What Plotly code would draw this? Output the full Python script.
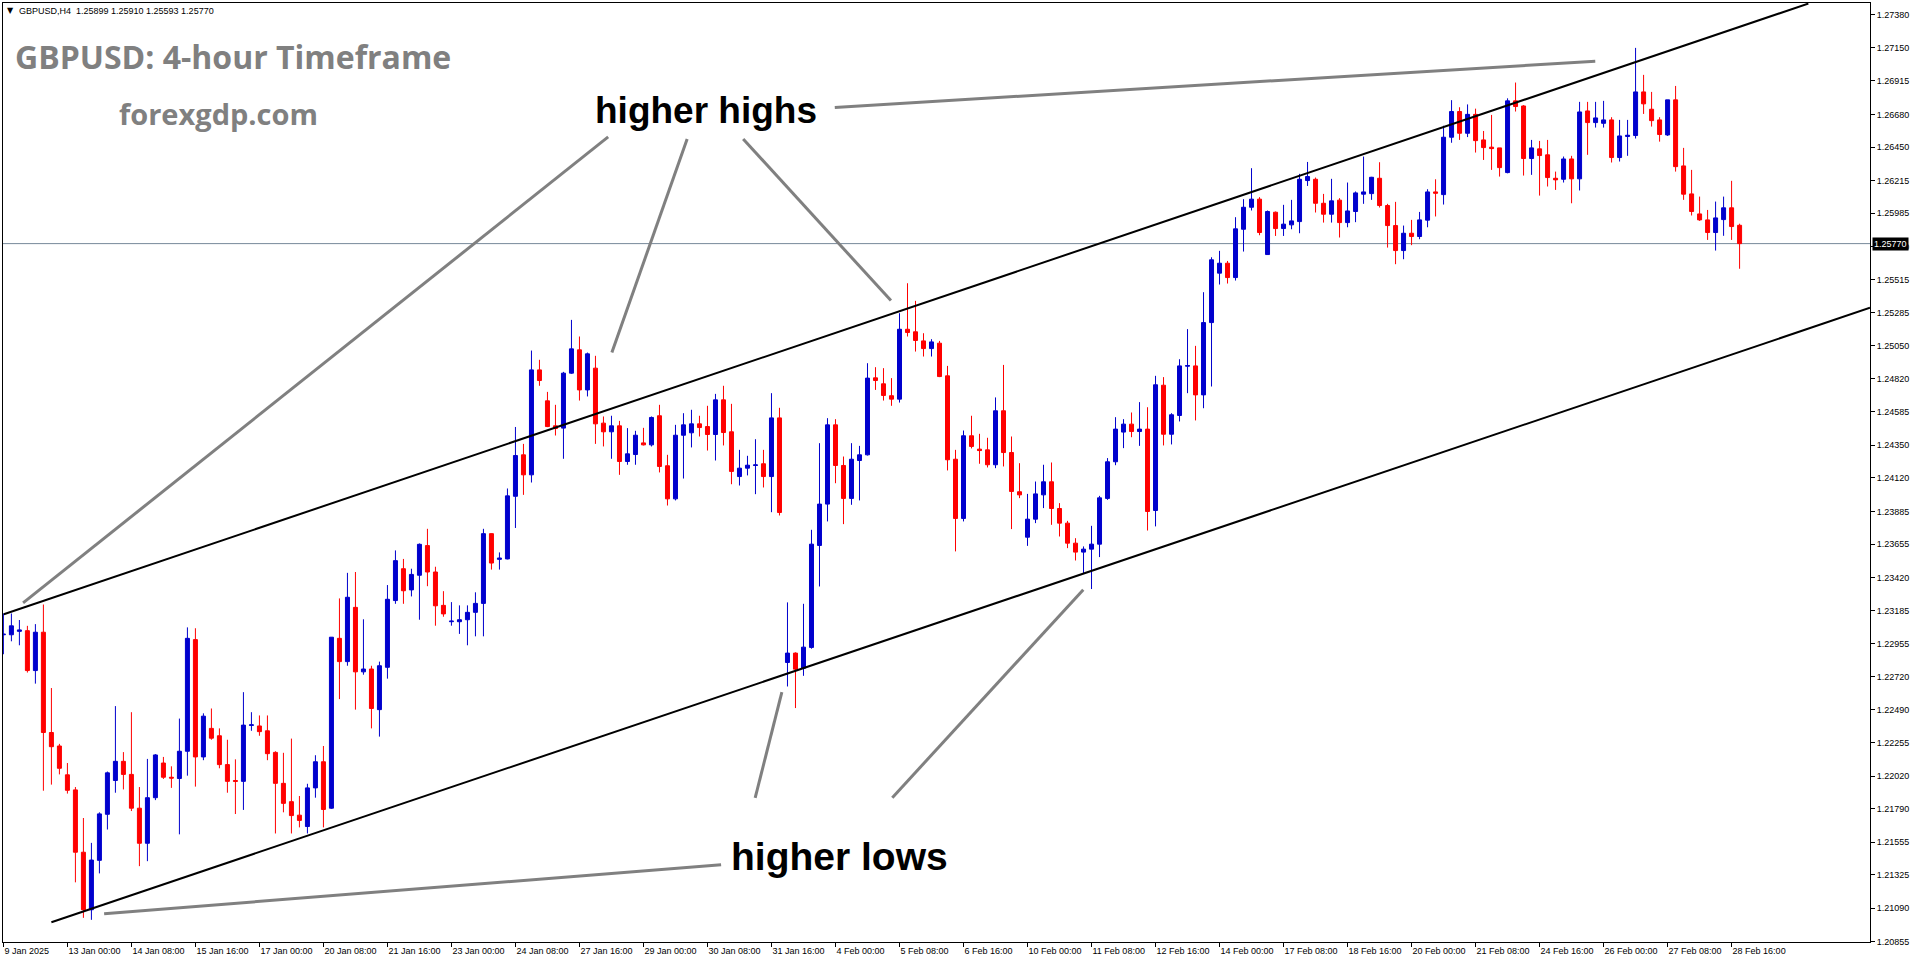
import plotly.graph_objects as go

# ---------------- data ----------------
opens = [1.23016,1.23016,1.23040,1.23045,1.22764,1.23034,1.22328,1.22233,1.22030,1.21924,
1.21485,1.21080,1.21428,1.21752,1.21990,1.22125,1.22033,1.21795,1.21548,1.21869,
1.22113,1.22013,1.22004,1.22196,1.22982,1.22156,1.22357,1.22305,1.22102,1.21990,
1.21984,1.22378,1.22374,1.22340,1.22188,1.21970,1.21841,1.21746,1.21666,1.21938,
1.22122,1.21795,1.22991,1.22827,1.23209,1.22755,1.22775,1.22489,1.22787,1.23257,
1.23481,1.23332,1.23435,1.23644,1.23458,1.23223,1.23108,1.23108,1.23122,1.23174,
1.23237,1.23728,1.23547,1.23550,1.23991,1.24283,1.24142,1.24881,1.24663,1.24487,
1.24471,1.24858,1.25022,1.24740,1.24893,1.24506,1.24445,1.24487,1.24236,1.24285,
1.24367,1.24353,1.24558,1.24206,1.23973,1.24421,1.24438,1.24501,1.24482,1.24426,
1.24670,1.24445,1.24130,1.24189,1.24208,1.24220,1.24130,1.24543,1.22821,1.22887,
1.22781,1.22927,1.23645,1.23936,1.24494,1.24208,1.23976,1.24243,1.24283,1.24825,
1.24783,1.24699,1.24675,1.25167,1.25149,1.25085,1.25031,1.25069,1.24839,1.24252,
1.23835,1.24417,1.24323,1.24318,1.24213,1.24593,1.24299,1.24023,1.23703,1.23830,
1.24001,1.24093,1.23905,1.23802,1.23661,1.23598,1.23619,1.23654,1.23976,1.24234,
1.24443,1.24499,1.24447,1.24464,1.23891,1.24773,1.24428,1.24560,1.24907,1.24909,
1.24705,1.25214,1.25562,1.25632,1.25531,1.25871,1.26026,1.26083,1.25693,1.25991,
1.25876,1.25902,1.25925,1.26214,1.26223,1.26054,1.25977,1.26076,1.25918,1.25996,
1.26118,1.26122,1.26230,1.26038,1.25897,1.25721,1.25843,1.25820,1.25935,1.26134,
1.26115,1.26519,1.26700,1.26547,1.26680,1.26500,1.26449,1.26444,1.26270,1.26775,
1.26739,1.26369,1.26437,1.26395,1.26230,1.26223,1.26366,1.26226,1.26704,1.26622,
1.26617,1.26641,1.26376,1.26524,1.26531,1.26838,1.26716,1.26641,1.26535,1.26782,
1.26317,1.26120,1.25979,1.25937,1.25848,1.25939,1.26022,1.25899]

highs = [1.23166,1.23166,1.23120,1.23079,1.23091,1.23229,1.22641,1.22248,1.22113,1.21944,
1.21726,1.21551,1.21766,1.22053,1.22514,1.22190,1.22471,1.21944,1.22142,1.22176,
1.22156,1.22090,1.22426,1.23068,1.23062,1.22463,1.22497,1.22357,1.22277,1.22139,
1.22612,1.22471,1.22448,1.22448,1.22196,1.22185,1.22285,1.21881,1.21967,1.22168,
1.22233,1.23000,1.23272,1.23452,1.23458,1.23125,1.22798,1.22827,1.23366,1.23610,
1.23550,1.23481,1.23659,1.23762,1.23495,1.23323,1.23246,1.23223,1.23223,1.23315,
1.23762,1.23730,1.23596,1.24046,1.24479,1.24360,1.25017,1.24952,1.24726,1.24635,
1.24867,1.25233,1.25116,1.25003,1.24980,1.24553,1.24558,1.24522,1.24471,1.24452,
1.24473,1.24553,1.24635,1.24283,1.24494,1.24576,1.24600,1.24558,1.24628,1.24712,
1.24769,1.24642,1.24318,1.24276,1.24393,1.24318,1.24717,1.24614,1.23244,1.22892,
1.23234,1.23755,1.24365,1.24541,1.24534,1.24271,1.24365,1.24346,1.24928,1.24900,
1.24893,1.24823,1.25280,1.25491,1.25367,1.25139,1.25097,1.25085,1.24909,1.24318,
1.24454,1.24558,1.24431,1.24403,1.24687,1.24916,1.24412,1.24224,1.24008,1.24095,
1.24213,1.24229,1.23943,1.23818,1.23696,1.23638,1.23783,1.23994,1.24260,1.24548,
1.24534,1.24581,1.24654,1.24618,1.24839,1.24830,1.24576,1.24956,1.25168,1.25050,
1.25428,1.25674,1.25719,1.25648,1.25956,1.26083,1.26301,1.26097,1.26003,1.25996,
1.26043,1.26078,1.26261,1.26345,1.26235,1.26120,1.26226,1.26090,1.26200,1.26137,
1.26383,1.26240,1.26343,1.26050,1.26064,1.25897,1.25937,1.25993,1.26153,1.26223,
1.26600,1.26780,1.26730,1.26750,1.26720,1.26563,1.26676,1.26444,1.26793,1.26904,
1.26745,1.26500,1.26493,1.26500,1.26277,1.26383,1.26388,1.26768,1.26768,1.26768,
1.26775,1.26660,1.26641,1.26641,1.27148,1.26958,1.26838,1.26660,1.26782,1.26880,
1.26444,1.26289,1.26101,1.26007,1.26066,1.26101,1.26212,1.25910]

lows = [1.22879,1.22970,1.22942,1.22750,1.22672,1.21918,1.21961,1.22033,1.21898,1.21273,
1.21023,1.21009,1.21336,1.21645,1.21904,1.21927,1.21775,1.21387,1.21422,1.21852,
1.22001,1.21938,1.21611,1.22024,1.21947,1.22133,1.22277,1.22076,1.21904,1.21754,
1.21783,1.22340,1.22305,1.22133,1.21617,1.21766,1.21617,1.21660,1.21617,1.21869,
1.21660,1.21790,1.22563,1.22798,1.22489,1.22735,1.22357,1.22299,1.22707,1.23234,
1.23234,1.23286,1.23122,1.23358,1.23080,1.23143,1.23080,1.23022,1.22942,1.23005,
1.23005,1.23475,1.23475,1.23547,1.23768,1.24001,1.24088,1.24769,1.24478,1.24419,
1.24255,1.24853,1.24665,1.24694,1.24360,1.24342,1.24255,1.24142,1.24213,1.24213,
1.24349,1.24342,1.24159,1.23926,1.23962,1.24116,1.24335,1.24412,1.24313,1.24243,
1.24349,1.24076,1.24067,1.24138,1.24006,1.24053,1.23879,1.23856,1.22652,1.22500,
1.22727,1.22918,1.23356,1.23814,1.24083,1.23795,1.23931,1.23962,1.24278,1.24740,
1.24665,1.24628,1.24651,1.25116,1.25010,1.24975,1.24975,1.24830,1.24173,1.23603,
1.23814,1.24328,1.24220,1.24194,1.24189,1.24201,1.23760,1.23978,1.23642,1.23802,
1.23908,1.23790,1.23708,1.23626,1.23539,1.23450,1.23338,1.23563,1.23966,1.24210,
1.24330,1.24407,1.24346,1.23750,1.23779,1.24349,1.24356,1.24518,1.24717,1.24525,
1.24611,1.24764,1.25482,1.25489,1.25510,1.25714,1.26003,1.25829,1.25693,1.25824,
1.25824,1.25871,1.25843,1.26176,1.25989,1.25918,1.25918,1.25813,1.25885,1.25921,
1.26050,1.26078,1.26024,1.25742,1.25625,1.25660,1.25759,1.25801,1.25885,1.25961,
1.26045,1.26480,1.26500,1.26520,1.26411,1.26359,1.26289,1.26242,1.26265,1.26700,
1.26249,1.26254,1.26108,1.26172,1.26148,1.26200,1.26054,1.26144,1.26395,1.26587,
1.26587,1.26341,1.26348,1.26388,1.26510,1.26683,1.26594,1.26488,1.26528,1.26277,
1.26078,1.25968,1.25930,1.25796,1.25721,1.25825,1.25796,1.25593]

closes = [1.23020,1.23079,1.23050,1.22764,1.23034,1.22328,1.22228,1.22076,1.21921,1.21485,
1.21080,1.21430,1.21755,1.22044,1.22125,1.22033,1.21795,1.21548,1.21869,1.22170,
1.22013,1.22007,1.22196,1.22991,1.22156,1.22443,1.22288,1.22102,1.21984,1.21984,
1.22380,1.22382,1.22334,1.22179,1.21970,1.21829,1.21743,1.21709,1.21938,1.22122,
1.21786,1.22999,1.22827,1.23280,1.22755,1.22775,1.22497,1.22798,1.23266,1.23538,
1.23326,1.23441,1.23653,1.23458,1.23220,1.23163,1.23112,1.23122,1.23174,1.23237,
1.23728,1.23521,1.23556,1.23994,1.24278,1.24142,1.24881,1.24806,1.24482,1.24468,
1.24858,1.25029,1.24740,1.24994,1.24501,1.24445,1.24487,1.24236,1.24290,1.24421,
1.24353,1.24546,1.24201,1.23973,1.24421,1.24494,1.24501,1.24475,1.24426,1.24670,
1.24440,1.24166,1.24189,1.24210,1.24212,1.24130,1.24543,1.23877,1.22887,1.22774,
1.22929,1.23654,1.23936,1.24494,1.24208,1.23976,1.24252,1.24283,1.24823,1.24806,
1.24701,1.24675,1.25167,1.25144,1.25088,1.25031,1.25078,1.24834,1.24248,1.23835,
1.24417,1.24342,1.24313,1.24213,1.24593,1.24299,1.24025,1.24001,1.23830,1.24008,
1.24093,1.23905,1.23802,1.23661,1.23598,1.23619,1.23654,1.23980,1.24234,1.24464,
1.24499,1.24447,1.24464,1.23884,1.24776,1.24428,1.24565,1.24909,1.24911,1.24705,
1.25214,1.25656,1.25632,1.25531,1.25874,1.26026,1.26083,1.25848,1.25996,1.25876,
1.25907,1.25930,1.26223,1.26242,1.26054,1.25977,1.26071,1.25918,1.26000,1.26127,
1.26134,1.26237,1.26038,1.25897,1.25721,1.25843,1.25820,1.25937,1.26134,1.26125,
1.26519,1.26700,1.26547,1.26680,1.26495,1.26446,1.26439,1.26305,1.26775,1.26735,
1.26369,1.26444,1.26390,1.26235,1.26219,1.26366,1.26226,1.26697,1.26622,1.26655,
1.26641,1.26376,1.26528,1.26533,1.26838,1.26754,1.26636,1.26538,1.26782,1.26312,
1.26118,1.25996,1.25937,1.25848,1.25951,1.26022,1.25890,1.25770]

bar_index = list(range(len(opens)))

time_tick_index = list(range(0, 217, 8))
time_tick_labels = ["9 Jan 2025", "13 Jan 00:00", "14 Jan 08:00", "15 Jan 16:00", "17 Jan 00:00",
    "20 Jan 08:00", "21 Jan 16:00", "23 Jan 00:00", "24 Jan 08:00", "27 Jan 16:00",
    "29 Jan 00:00", "30 Jan 08:00", "31 Jan 16:00", "4 Feb 00:00", "5 Feb 08:00",
    "6 Feb 16:00", "10 Feb 00:00", "11 Feb 08:00", "12 Feb 16:00", "14 Feb 00:00",
    "17 Feb 08:00", "18 Feb 16:00", "20 Feb 00:00", "21 Feb 08:00", "24 Feb 16:00",
    "26 Feb 00:00", "27 Feb 08:00", "28 Feb 16:00"]

price_ticks = [1.27380, 1.27150, 1.26915, 1.26680, 1.26450, 1.26215, 1.25985, 1.25750,
    1.25515, 1.25285, 1.25050, 1.24820, 1.24585, 1.24350, 1.24120, 1.23885, 1.23655,
    1.23420, 1.23185, 1.22955, 1.22720, 1.22490, 1.22255, 1.22020, 1.21790, 1.21555,
    1.21325, 1.21090, 1.20855]

# trend channel anchors (bar index, price)
upper_channel_x = [0.05, 225.6]
upper_channel_y = [1.23160, 1.27460]
lower_channel_x = [6.0, 233.3]
lower_channel_y = [1.20992, 1.25318]

# pointer lines for the labels (bar index, price), one list per segment
highs_pointers_x = [[75.59, 2.46], [85.46, 76.05], [92.46, 110.93], [103.91, 198.96]]
highs_pointers_y = [[1.26521, 1.23241], [1.26507, 1.25003], [1.26507, 1.25369], [1.26729, 1.27054]]
lows_pointers_x = [[93.96, 97.30], [111.1, 134.97], [89.7, 12.59]]
lows_pointers_y = [[1.21867, 1.22613], [1.21869, 1.23333], [1.21397, 1.21052]]

symbol = "GBPUSD,H4"
title_text = "GBPUSD: 4-hour Timeframe"
site_text = "forexgdp.com"

# ---------------- figure ----------------
UP = "#0000CD"
DOWN = "#FF0000"
TICKFONT = dict(family="Liberation Sans, Arial, sans-serif", size=9, color="black")

fig = go.Figure()

fig.add_trace(go.Candlestick(
    x=bar_index, open=opens, high=highs, low=lows, close=closes,
    increasing=dict(line=dict(color=UP, width=1), fillcolor=UP),
    decreasing=dict(line=dict(color=DOWN, width=1), fillcolor=DOWN),
    whiskerwidth=0, hoverinfo="skip", showlegend=False))

fig.add_trace(go.Scatter(x=upper_channel_x, y=upper_channel_y, mode="lines",
                         line=dict(color="black", width=2), hoverinfo="skip", showlegend=False))
fig.add_trace(go.Scatter(x=lower_channel_x, y=lower_channel_y, mode="lines",
                         line=dict(color="black", width=2), hoverinfo="skip", showlegend=False))

for xs, ys in zip(highs_pointers_x + lows_pointers_x, highs_pointers_y + lows_pointers_y):
    fig.add_trace(go.Scatter(x=xs, y=ys, mode="lines",
                             line=dict(color="#808080", width=3), hoverinfo="skip", showlegend=False))

last_price = closes[-1]
fig.add_shape(type="line", xref="paper", x0=0, x1=1, yref="y", y0=last_price, y1=last_price,
              line=dict(color="#778899", width=1), layer="below")

W, H = 1916, 964
ML, MR, MT, MB = 3, 46, 3, 22
PW, PH = W - ML - MR, H - MT - MB

def px(xp):
    return (xp - ML) / PW

def py(yp):
    return (H - MB - yp) / PH

annos = []
annos.append(dict(xref="paper", yref="paper", x=px(5), y=py(11), xanchor="left", yanchor="middle",
                  text="\u25BC", showarrow=False, font=dict(family="DejaVu Sans", size=8, color="black")))
annos.append(dict(xref="paper", yref="paper", x=px(17), y=py(11), xanchor="left", yanchor="middle",
                  text=f"{symbol}\u00a0\u00a0{opens[-1]:.5f} {highs[-1]:.5f} {lows[-1]:.5f} {closes[-1]:.5f}",
                  showarrow=False, font=TICKFONT))
annos.append(dict(xref="paper", yref="paper", x=px(13), y=py(56), xanchor="left", yanchor="middle",
                  text=f"<b>{title_text}</b>", showarrow=False,
                  font=dict(family="Open Sans, sans-serif", size=32, color="#808080")))
annos.append(dict(xref="paper", yref="paper", x=px(117), y=py(113), xanchor="left", yanchor="middle",
                  text=f"<b>{site_text}</b>", showarrow=False,
                  font=dict(family="Open Sans, sans-serif", size=29, color="#808080")))
annos.append(dict(xref="paper", yref="paper", x=px(593), y=py(110), xanchor="left", yanchor="middle",
                  text="<b>higher highs</b>", showarrow=False,
                  font=dict(family="Liberation Sans, Arial, sans-serif", size=37, color="black")))
annos.append(dict(xref="paper", yref="paper", x=px(729), y=py(856), xanchor="left", yanchor="middle",
                  text="<b>higher lows</b>", showarrow=False,
                  font=dict(family="Liberation Sans, Arial, sans-serif", size=39, color="black")))
annos.append(dict(xref="paper", yref="y", x=1, y=last_price, xanchor="left", yanchor="middle",
                  xshift=2, text=f"{last_price:.5f}", showarrow=False, bgcolor="black",
                  borderpad=1, font=dict(family="Liberation Sans, Arial, sans-serif", size=9, color="white")))

fig.update_layout(
    width=W, height=H,
    margin=dict(l=ML, r=MR, t=MT, b=MB, pad=0),
    paper_bgcolor="white", plot_bgcolor="white",
    showlegend=False, boxgap=0.5, boxgroupgap=0,
    annotations=annos,
    xaxis=dict(range=[-0.05, 233.3], tickmode="array", tickvals=time_tick_index, ticktext=time_tick_labels,
               ticks="outside", ticklen=4, tickcolor="black", tickwidth=1,
               ticklabelposition="outside right", tickfont=TICKFONT,
               showline=True, linecolor="black", linewidth=1, mirror=True,
               showgrid=False, zeroline=False, rangeslider=dict(visible=False), fixedrange=True),
    yaxis=dict(range=[1.20853, 1.27464], side="right", tickmode="array", tickvals=price_ticks,
               ticktext=[f"{v:.5f}" for v in price_ticks],
               ticks="outside", ticklen=4, tickcolor="black", tickwidth=1, tickfont=TICKFONT,
               showline=True, linecolor="black", linewidth=1, mirror=True,
               showgrid=False, zeroline=False, fixedrange=True),
)

fig.write_html("out.html", config={"displayModeBar": False},
               post_script="document.body.style.margin='0';document.body.style.overflow='hidden';")
